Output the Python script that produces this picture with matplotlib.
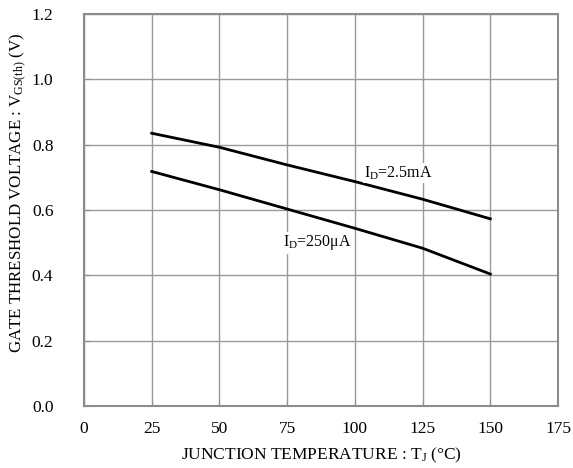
import matplotlib
matplotlib.use("Agg")
import matplotlib.pyplot as plt

plt.rcParams['font.family'] = ['Liberation Serif', 'DejaVu Serif']
plt.rcParams['mathtext.fontset'] = 'stix'

temp = [25, 50, 75, 100, 125, 150]
vth_2p5mA = [0.835, 0.792, 0.738, 0.687, 0.633, 0.573]
vth_250uA = [0.718, 0.662, 0.603, 0.544, 0.483, 0.404]
xticks = [0, 25, 50, 75, 100, 125, 150, 175]
yticks = [0.0, 0.2, 0.4, 0.6, 0.8, 1.0, 1.2]

fig = plt.figure(figsize=(5.73, 4.68), dpi=100)
ax = fig.add_axes([84/573, 1-406/468, (558-84)/573, (406-14)/468])

ax.plot(temp, vth_2p5mA, color='black', lw=2, zorder=3)
ax.plot(temp, vth_250uA, color='black', lw=2, zorder=3)

ax.set_xlim(0, 175)
ax.set_ylim(0, 1.2)
ax.set_xticks(xticks)
ax.set_yticks(yticks)
ax.set_xticklabels([str(t) for t in xticks])
ax.set_yticklabels([f"{v:.1f}" for v in yticks])
ax.grid(True, color='#9a9a9a', lw=1)
ax.set_axisbelow(True)
for s in ax.spines.values():
    s.set_color('#8c8c8c')
    s.set_linewidth(1.5)
ax.tick_params(direction='in', length=4, color='#8c8c8c', labelsize=12.5)
ax.tick_params(axis='y', pad=22)
ax.tick_params(axis='x', pad=11)

ax.set_xlabel(r"JUNCTION TEMPERATURE : T$\mathregular{_J}$ (°C)", fontsize=12.5)
ax.set_ylabel(r"GATE THRESHOLD VOLTAGE : V$\mathregular{_{GS(th)}}$ (V)", fontsize=12.2)
ax.xaxis.set_label_coords(0.501, -0.102)
ax.yaxis.set_label_coords(-0.117, 0.545)

bbox = dict(facecolor='white', edgecolor='none', pad=1)
ax.text(103.5, 0.713, r"I$\mathregular{_D}$=2.5mA", fontsize=11.5, ha='left', va='center', bbox=bbox, zorder=4)
ax.text(73.3, 0.50, r"I$\mathregular{_D}$=250μA", fontsize=11.5, ha='left', va='center', bbox=bbox, zorder=4)

fig.savefig("out.png", dpi=100)
